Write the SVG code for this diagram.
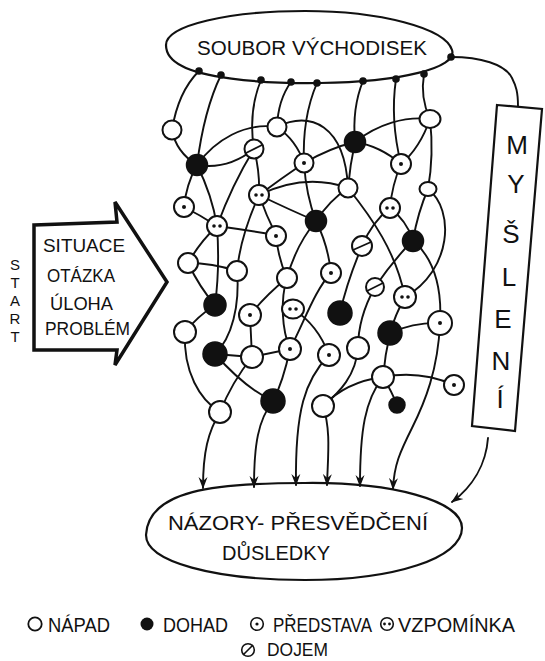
<svg xmlns="http://www.w3.org/2000/svg" width="545" height="661" viewBox="0 0 545 661">
<style>
.t{font-family:"Liberation Sans",Arial,sans-serif;fill:#111}
.c{fill:none;stroke:#111;stroke-width:1.9;stroke-linecap:round}
.o{fill:#fff;stroke:#111;stroke-width:2}
.f{fill:#111;stroke:#111;stroke-width:1.5}
.d{fill:#111}
.s{stroke:#111;stroke-width:1.8}
.sh{fill:#fff;stroke:#111;stroke-width:2.2}
</style>
<defs>
<marker id="ah" viewBox="0 0 12 10" refX="11" refY="5" markerWidth="12" markerHeight="10" orient="auto" markerUnits="userSpaceOnUse">
<path d="M0,0.5 L12,5 L0,9.5 L4,5 Z" fill="#111"/>
</marker>
</defs>
<rect width="545" height="661" fill="#fff"/>

<g id="top-ellipse">
<path class="sh" d="M166,45 C166,25 230,11 305,11 C380,11 445,28 452,50 C458,68 400,82 320,83 C250,84 200,76 182,66 C170,60 166,53 166,45 Z"/>
<text class="t" x="197" y="55" font-size="20" textLength="230" lengthAdjust="spacingAndGlyphs">SOUBOR VÝCHODISEK</text>
</g>

<g id="bottom-ellipse">
<path class="sh" d="M146,535 C148,490 215,483 305,483 C390,482 462,500 462,528 C462,558 395,580 305,580 C215,580 146,562 146,535 Z"/>
<text class="t" x="168" y="530" font-size="21" textLength="260" lengthAdjust="spacingAndGlyphs">NÁZORY- PŘESVĚDČENÍ</text>
<text class="t" x="222" y="560" font-size="21" textLength="108" lengthAdjust="spacingAndGlyphs">DŮSLEDKY</text>
</g>

<g id="start-arrow">
<polygon points="34,225 117,222 115,202 167,282 115,365 117,350 34,350" fill="#fff" stroke="#111" stroke-width="3.5" stroke-linejoin="miter"/>
<text class="t" x="43" y="252" font-size="18" textLength="82" lengthAdjust="spacingAndGlyphs">SITUACE</text>
<text class="t" x="47" y="282" font-size="18" textLength="68" lengthAdjust="spacingAndGlyphs">OTÁZKA</text>
<text class="t" x="50" y="310" font-size="18" textLength="63" lengthAdjust="spacingAndGlyphs">ÚLOHA</text>
<text class="t" x="45" y="335" font-size="18" textLength="85" lengthAdjust="spacingAndGlyphs">PROBLÉM</text>
</g>

<g id="start-label" class="t" font-size="15" text-anchor="middle">
<text x="15" y="270">S</text>
<text x="15" y="288">T</text>
<text x="15" y="306">A</text>
<text x="15" y="324">R</text>
<text x="15" y="342">T</text>
</g>

<g id="mysleni-box">
<polygon points="497,105 542,109 515,431 472,426" fill="#fff" stroke="#111" stroke-width="2.2"/>
<g class="t" font-size="26" text-anchor="middle">
<text x="517" y="154">M</text>
<text x="516" y="193">Y</text>
<text x="511" y="243">Š</text>
<text x="509" y="286">L</text>
<text x="503" y="328">E</text>
<text x="501" y="370">N</text>
<text x="500" y="408">Í</text>
</g>
</g>

<g id="connectors" class="c">
<path d="M199,71 Q178,92 172,130"/>
<path d="M172,130 Q176,152 197,165"/>
<path d="M221,75 Q204,110 197,165"/>
<path d="M261,80 Q248,112 254,149"/>
<path d="M291,82 Q278,100 277,127"/>
<path d="M317,83 Q302,118 304,163"/>
<path d="M363,81 Q352,108 355,142"/>
<path d="M396,79 Q390,120 401,164"/>
<path d="M424,74 Q420,98 430,119"/>
<path d="M451,57 C480,57 505,64 512,78 C516,86 518,92 518,106"/>
<path d="M197,165 C215,140 245,122 277,127"/>
<path d="M277,127 C310,110 345,125 348,188"/>
<path d="M197,165 Q228,170 254,149"/>
<path d="M197,165 Q186,185 184,207"/>
<path d="M197,165 Q212,195 217,226"/>
<path d="M254,149 Q260,172 259,195"/>
<path d="M254,149 Q232,185 217,226"/>
<path d="M277,127 Q296,140 304,163"/>
<path d="M355,142 Q330,148 304,163"/>
<path d="M355,142 Q380,146 401,164"/>
<path d="M355,142 Q350,165 348,188"/>
<path d="M355,142 C378,124 405,116 430,119"/>
<path d="M401,164 Q420,148 430,119"/>
<path d="M430,119 Q434,155 428,189"/>
<path d="M401,164 Q392,185 390,208"/>
<path d="M304,163 Q282,178 259,195"/>
<path d="M304,163 Q306,195 316,221"/>
<path d="M259,195 Q290,210 316,221"/>
<path d="M259,195 Q266,215 276,235"/>
<path d="M259,195 C290,180 320,178 348,188"/>
<path d="M348,188 Q330,200 316,221"/>
<path d="M184,207 Q200,215 217,226"/>
<path d="M217,226 Q246,230 276,235"/>
<path d="M390,208 Q372,222 362,246"/>
<path d="M390,208 Q406,220 413,240"/>
<path d="M428,189 Q418,212 413,240"/>
<path d="M428,189 C455,210 452,270 405,297"/>
<path d="M348,188 C372,218 396,252 405,297"/>
<path d="M316,221 Q296,245 287,278"/>
<path d="M316,221 Q328,245 331,273"/>
<path d="M188,263 Q200,242 217,226"/>
<path d="M188,263 Q212,263 237,271"/>
<path d="M237,271 C240,240 250,215 259,195"/>
<path d="M188,263 Q200,288 215,305"/>
<path d="M217,226 Q220,268 215,305"/>
<path d="M215,305 Q198,316 185,332"/>
<path d="M185,332 C183,372 200,400 220,412"/>
<path d="M237,271 C240,305 232,338 215,354"/>
<path d="M215,354 L252,357"/>
<path d="M215,354 Q245,388 273,401"/>
<path d="M252,357 Q232,382 220,412"/>
<path d="M250,315 L252,357"/>
<path d="M287,278 Q265,296 250,315"/>
<path d="M287,278 Q278,258 276,235"/>
<path d="M287,278 C280,300 282,330 290,349"/>
<path d="M252,357 L290,349"/>
<path d="M290,349 Q283,382 273,401"/>
<path d="M331,273 C315,290 305,320 290,349"/>
<path d="M293,309 Q318,325 329,355"/>
<path d="M362,246 C352,270 345,290 340,313"/>
<path d="M413,240 Q392,262 375,287"/>
<path d="M375,287 C365,305 358,325 358,348"/>
<path d="M413,240 C435,260 442,290 440,323"/>
<path d="M405,297 Q395,315 390,333"/>
<path d="M390,333 Q415,322 440,323"/>
<path d="M390,333 Q385,355 383,377"/>
<path d="M383,377 Q420,370 454,385"/>
<path d="M383,377 Q392,392 397,405"/>
<path d="M383,377 C360,380 340,388 323,406"/>
<path d="M358,348 C356,375 340,392 323,406"/>
<path d="M220,412 C208,432 203,452 203,488" marker-end="url(#ah)"/>
<path d="M273,401 C258,420 254,445 254,487" marker-end="url(#ah)"/>
<path d="M329,355 C305,380 295,410 296,485" marker-end="url(#ah)"/>
<path d="M323,406 C331,430 328,455 327,485" marker-end="url(#ah)"/>
<path d="M383,377 C365,400 360,430 360,486" marker-end="url(#ah)"/>
<path d="M440,323 C438,370 425,402 412,428 C400,452 394,465 393,489" marker-end="url(#ah)"/>
<path d="M488,438 C486,465 472,487 452,502" marker-end="url(#ah)"/>
</g>

<g id="anchors" class="d">
<circle cx="199" cy="71" r="3.8"/><circle cx="221" cy="75" r="3.8"/><circle cx="261" cy="80" r="3.8"/>
<circle cx="291" cy="82" r="3.8"/><circle cx="317" cy="83" r="3.8"/><circle cx="363" cy="81" r="3.8"/>
<circle cx="396" cy="79" r="3.8"/><circle cx="424" cy="74" r="3.8"/><circle cx="451" cy="57" r="3.8"/>
</g>

<g id="nA"><circle class="o" cx="172" cy="130" r="9.5"/></g>
<g id="nB"><circle class="f" cx="197" cy="165" r="10.5"/></g>
<g id="nC"><circle class="o" cx="254" cy="149" r="9.5"/><line class="s" x1="246" y1="153" x2="262" y2="145"/></g>
<g id="nD"><circle class="o" cx="277" cy="127" r="9.5"/></g>
<g id="nE"><circle class="o" cx="304" cy="163" r="9.5"/><circle class="d" cx="304" cy="163" r="2"/></g>
<g id="nF"><circle class="o" cx="184" cy="207" r="10"/><circle class="d" cx="184" cy="207" r="2"/></g>
<g id="nG"><circle class="o" cx="259" cy="195" r="10"/><circle class="d" cx="256" cy="195" r="1.8"/><circle class="d" cx="262" cy="195" r="1.8"/></g>
<g id="nH"><circle class="o" cx="217" cy="226" r="10"/><circle class="d" cx="214" cy="226" r="1.8"/><circle class="d" cx="220" cy="226" r="1.8"/></g>
<g id="nI"><circle class="o" cx="276" cy="236" r="10"/><circle class="d" cx="276" cy="236" r="2"/></g>
<g id="nJ"><circle class="f" cx="316" cy="221" r="10.5"/></g>
<g id="nK"><circle class="f" cx="355" cy="142" r="10.5"/></g>
<g id="nL"><circle class="o" cx="401" cy="164" r="10"/><circle class="d" cx="401" cy="164" r="2"/></g>
<g id="nM"><ellipse class="o" cx="430" cy="119" rx="10.5" ry="9"/></g>
<g id="nN"><circle class="o" cx="348" cy="188" r="9.5"/></g>
<g id="nO"><circle class="o" cx="390" cy="208" r="10"/><circle class="d" cx="387" cy="208" r="1.8"/><circle class="d" cx="393" cy="208" r="1.8"/></g>
<g id="nP"><ellipse class="o" cx="428" cy="189" rx="8.5" ry="7"/></g>
<g id="nQ"><circle class="f" cx="413" cy="241" r="10.5"/></g>
<g id="nU"><circle class="o" cx="188" cy="263" r="10"/></g>
<g id="nV"><circle class="o" cx="237" cy="271" r="10"/></g>
<g id="nW"><circle class="o" cx="287" cy="278" r="10"/></g>
<g id="nX"><circle class="o" cx="331" cy="273" r="10"/><circle class="d" cx="331" cy="273" r="2"/></g>
<g id="nY"><circle class="o" cx="362" cy="246" r="10"/><line class="s" x1="353" y1="250" x2="371" y2="242"/></g>
<g id="nZ"><circle class="o" cx="375" cy="287" r="9"/><line class="s" x1="367" y1="291" x2="383" y2="283"/></g>
<g id="nAA"><circle class="o" cx="405" cy="297" r="11"/><circle class="d" cx="402" cy="297" r="1.8"/><circle class="d" cx="408" cy="297" r="1.8"/></g>
<g id="nAB"><circle class="f" cx="215" cy="305" r="11"/></g>
<g id="nAC"><circle class="o" cx="250" cy="315" r="11"/><circle class="d" cx="250" cy="315" r="2"/></g>
<g id="nAD"><ellipse class="o" cx="293" cy="309" rx="11" ry="9.5"/><circle class="d" cx="290" cy="309" r="1.8"/><circle class="d" cx="296" cy="309" r="1.8"/></g>
<g id="nAE"><circle class="f" cx="340" cy="313" r="12"/></g>
<g id="nAF"><circle class="o" cx="185" cy="332" r="11"/></g>
<g id="nAG"><circle class="f" cx="390" cy="333" r="12"/></g>
<g id="nAH"><circle class="o" cx="440" cy="323" r="12"/><circle class="d" cx="440" cy="323" r="2"/></g>
<g id="nAI"><circle class="f" cx="215" cy="354" r="12"/></g>
<g id="nAJ"><circle class="o" cx="252" cy="357" r="11"/></g>
<g id="nAK"><circle class="o" cx="290" cy="349" r="11"/><circle class="d" cx="290" cy="349" r="2"/></g>
<g id="nAL"><circle class="o" cx="329" cy="355" r="11"/><circle class="d" cx="329" cy="355" r="2"/></g>
<g id="nAM"><circle class="o" cx="358" cy="348" r="11"/></g>
<g id="nAN"><circle class="o" cx="383" cy="377" r="11"/></g>
<g id="nAO"><circle class="o" cx="454" cy="385" r="10"/><circle class="d" cx="454" cy="385" r="2"/></g>
<g id="nAP"><circle class="f" cx="273" cy="401" r="12"/></g>
<g id="nAQ"><circle class="o" cx="220" cy="412" r="11"/></g>
<g id="nAR"><circle class="o" cx="323" cy="406" r="11"/></g>
<g id="nAS"><circle class="f" cx="397" cy="405" r="8"/></g>

<g id="legend">
<circle cx="35" cy="624" r="6.7" fill="none" stroke="#111" stroke-width="1.8"/>
<text class="t" x="48" y="632" font-size="20" textLength="62" lengthAdjust="spacingAndGlyphs">NÁPAD</text>
<circle cx="147" cy="624" r="6.5" fill="#111"/>
<text class="t" x="163" y="632" font-size="20" textLength="65" lengthAdjust="spacingAndGlyphs">DOHAD</text>
<circle cx="257" cy="624" r="6.3" fill="none" stroke="#111" stroke-width="1.6"/><circle cx="257" cy="624" r="1.6" fill="#111"/>
<text class="t" x="273" y="632" font-size="20" textLength="99" lengthAdjust="spacingAndGlyphs">PŘEDSTAVA</text>
<circle cx="387" cy="624" r="6.3" fill="none" stroke="#111" stroke-width="1.6"/><circle cx="384.5" cy="624" r="1.4" fill="#111"/><circle cx="389.5" cy="624" r="1.4" fill="#111"/>
<text class="t" x="398" y="632" font-size="20" textLength="117" lengthAdjust="spacingAndGlyphs">VZPOMÍNKA</text>
<circle cx="248" cy="650" r="6.3" fill="none" stroke="#111" stroke-width="1.6"/><line x1="243" y1="655" x2="253" y2="645" stroke="#111" stroke-width="1.6"/>
<text class="t" x="267" y="656" font-size="18" textLength="61" lengthAdjust="spacingAndGlyphs">DOJEM</text>
</g>
</svg>
